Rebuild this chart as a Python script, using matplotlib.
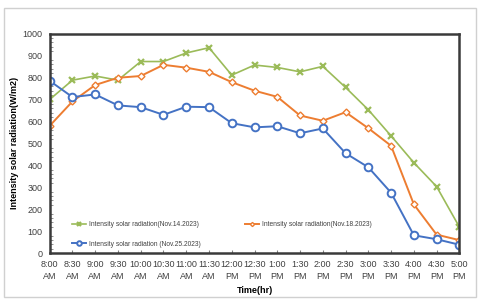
import matplotlib.pyplot as plt
from matplotlib.patches import Rectangle
from matplotlib.ticker import MultipleLocator

plt.rcParams['font.family'] = ['Liberation Sans Narrow', 'Liberation Sans', 'DejaVu Sans']

# horas de medição
horas = ["8:00\nAM", "8:30\nAM", "9:00\nAM", "9:30\nAM", "10:00\nAM", "10:30\nAM",
         "11:00\nAM", "11:30\nAM", "12:00\nPM", "12:30\nPM", "1:00\nPM", "1:30\nPM",
         "2:00\nPM", "2:30\nPM", "3:00\nPM", "3:30\nPM", "4:00\nPM", "4:30\nPM", "5:00\nPM"]

# radiação (W/m2) por dia
nov14 = [700, 788, 807, 788, 873, 873, 912, 936, 811, 857, 846, 826, 851, 755, 653, 534, 412, 303, 119]
nov18 = [580, 691, 766, 799, 807, 858, 845, 826, 779, 740, 712, 627, 603, 642, 569, 489, 222, 84, 59]
nov25 = [785, 711, 723, 673, 665, 630, 667, 665, 592, 573, 578, 546, 568, 455, 391, 275, 81, 63, 38]

x = list(range(len(horas)))

fig = plt.figure(figsize=(4.8, 3.06), dpi=100)
fig.patches.append(Rectangle((4 / 480, 1 - 297 / 306), 472 / 480, 289 / 306,
                             transform=fig.transFigure, fill=False,
                             edgecolor='#d0d0d0', linewidth=1.0))
ax = fig.add_axes([0.1035, 0.173, 0.8535, 0.717])

verde, laranja, azul = '#9bbb59', '#ed7d31', '#4472c4'
l1, = ax.plot(x, nov14, color=verde, lw=1.2, marker='x', ms=4, mew=1.6)
l2, = ax.plot(x, nov18, color=laranja, lw=1.4, marker='D', ms=3.5,
              mfc='white', mec=laranja, mew=1.0)
l3, = ax.plot(x, nov25, color=azul, lw=1.4, marker='o', ms=5.5,
              mfc='white', mec=azul, mew=1.4)

ax.set_xlim(0, len(horas) - 1)
ax.set_ylim(0, 1000)
ax.yaxis.set_major_locator(MultipleLocator(100))
ax.yaxis.set_minor_locator(MultipleLocator(20))
ax.set_xticks(x)
ax.set_xticklabels(horas, fontsize=6.5, color='#404040', linespacing=1.4)
ax.tick_params(axis='y', labelsize=6.5, colors='#404040', length=0, pad=5)
ax.tick_params(axis='y', which='minor', length=2, direction='in', color='#808080')
ax.tick_params(axis='x', length=2, direction='in', color='#808080', pad=5)
for s in ax.spines.values():
    s.set_linewidth(1.8)
    s.set_color('#3a3a3a')

ax.set_ylabel("Intensity solar radiation(W/m2)", fontsize=6.5, fontweight='bold', labelpad=3)
ax.set_xlabel("Time(hr)", fontsize=6.5, fontweight='bold', labelpad=4)

ax.legend([l1, l3, l2],
          ["Intensity solar radiation(Nov.14.2023)",
           "Intensity solar radiation (Nov.25.2023)",
           "Intensity solar radiation(Nov.18.2023)"],
          ncol=2, loc='upper left', bbox_to_anchor=(0.047, 0.162), frameon=False,
          fontsize=4.8, handlelength=2.1, handletextpad=0.4, columnspacing=6.7,
          labelspacing=1.9, borderpad=0, markerscale=0.6, labelcolor='#404040')

fig.savefig("out.png", dpi=100)
